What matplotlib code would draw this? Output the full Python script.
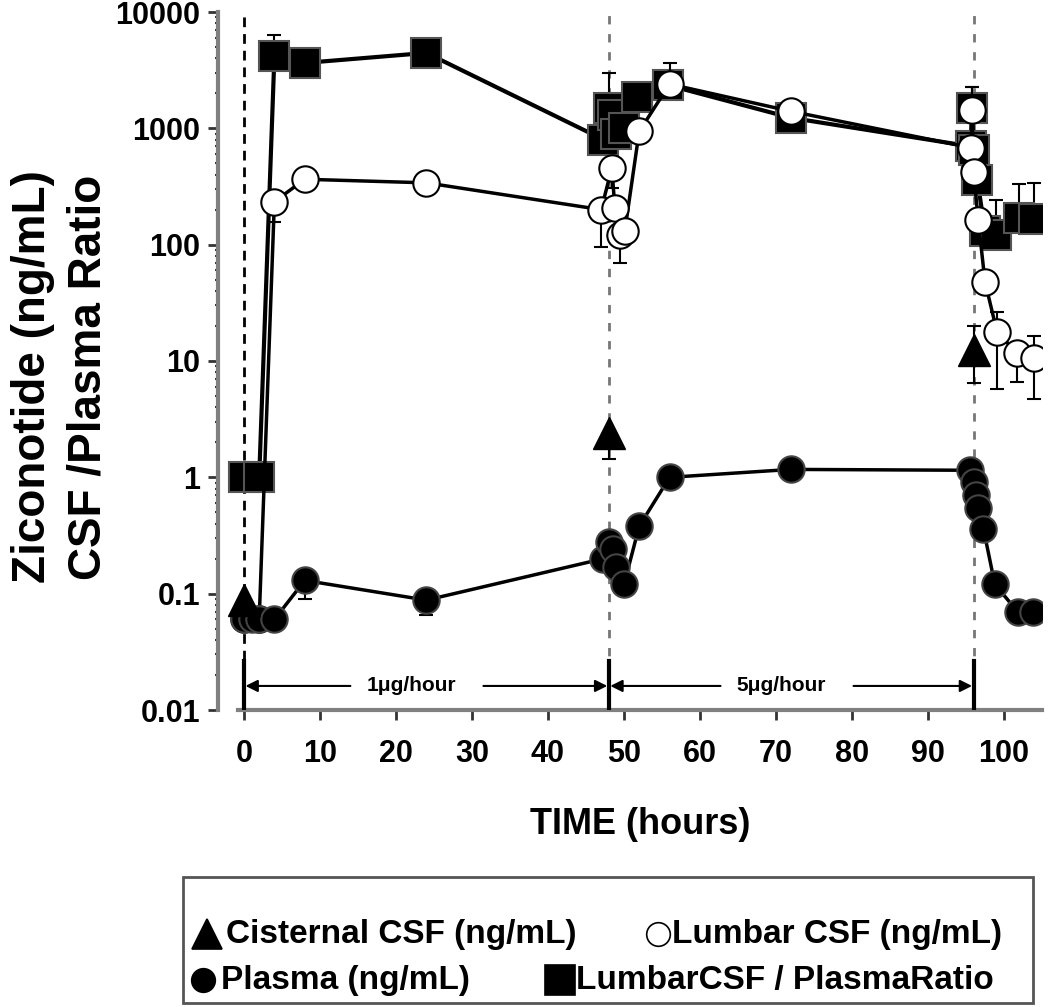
import numpy as np
import matplotlib
matplotlib.use("Agg")
import matplotlib.pyplot as plt
from matplotlib.lines import Line2D
from matplotlib.patches import Rectangle

plt.rcParams['font.family'] = ['Liberation Sans', 'DejaVu Sans']
plt.rcParams['font.weight'] = 'bold'

# cisternal CSF (ng/mL)
t_cist = [0, 48, 96]
cist = [0.088, 2.4, 12.5]
cist_low = [0.088, 1.45, 6.5]
cist_high = [0.088, 2.4, 20]

# plasma (ng/mL)
t_pl = [0, 1, 2, 4, 8, 24, 47.3, 48, 48.5, 49, 50, 52, 56, 72,
        95.5, 96, 96.3, 96.6, 97.3, 98.8, 101.8, 103.8]
pl = [0.06, 0.06, 0.06, 0.06, 0.13, 0.088, 0.2, 0.28, 0.24, 0.17, 0.12, 0.38, 1.0, 1.17,
      1.15, 0.91, 0.71, 0.55, 0.36, 0.12, 0.07, 0.07]
pl_low = [0.06, 0.06, 0.06, 0.06, 0.09, 0.065, 0.2, 0.28, 0.24, 0.17, 0.12, 0.3, 1.0, 1.17,
          1.15, 0.91, 0.71, 0.55, 0.36, 0.12, 0.07, 0.07]

# lumbar CSF (ng/mL)
t_lum = [0, 2, 4, 8, 24, 47, 48.4, 48.8, 49.5, 50.1, 52, 56, 72,
         95.7, 95.8, 96, 96.6, 97.5, 99.1, 101.7, 104]
lum = [0.06, 0.06, 234, 365, 340, 200, 457, 208, 120, 130, 940, 2400, 1400,
       680, 1440, 423, 164, 48, 17.6, 11.8, 10.7]
lum_low = [0.06, 0.06, 157, 365, 340, 95, 310, 208, 70, 130, 940, 2400, 1400,
           680, 1440, 423, 164, 48, 5.7, 6.6, 4.7]
lum_high = [0.06, 0.06, 234, 365, 340, 200, 457, 208, 120, 130, 940, 3650, 1400,
            680, 2270, 423, 164, 48, 26.5, 11.8, 16.5]

# lumbar CSF / plasma ratio
t_rat = [0, 2, 4, 8, 24, 47.3, 48, 48.5, 49, 50, 51.7, 55.8, 72,
         95.6, 95.8, 96, 96.5, 97.5, 99, 102, 104]
rat = [1, 1, 4150, 3650, 4450, 800, 1500, 1300, 900, 1000, 1850, 2350, 1230,
       700, 1500, 650, 360, 130, 120, 170, 165]
rat_high = [1, 1, 6300, 3650, 4450, 800, 3000, 1300, 900, 1000, 1850, 2350, 1230,
            700, 2270, 650, 360, 130, 240, 330, 340]

dose_starts = [0, 48, 96]
dose_labels = ['1\u03bcg/hour', '5\u03bcg/hour']
x_ticks = [0, 10, 20, 30, 40, 50, 60, 70, 80, 90, 100]
y_ticks = [0.01, 0.1, 1, 10, 100, 1000, 10000]
y_ticklabels = ['0.01', '0.1', '1', '10', '100', '1000', '10000']


def err(v, lo, hi):
    v, lo, hi = np.array(v), np.array(lo), np.array(hi)
    return [v - lo, hi - v]


fig = plt.figure(figsize=(10.5, 10.07), dpi=100)
ax = fig.add_axes([218 / 1050, 1 - 710 / 1007, 824 / 1050, 698 / 1007])
ax.set_yscale('log')
ax.set_xlim(-3.42, 105)
ax.set_ylim(0.01, 10000)

# dose change lines
ax.axvline(dose_starts[0], color='black', lw=2, ls=(0, (3.5, 2.5)), zorder=1)
for d in dose_starts[1:]:
    ax.axvline(d, color='#777777', lw=2, ls=(0, (3, 3.5)), zorder=1)

ecol = 'black'
ax.errorbar(t_rat, rat, yerr=err(rat, rat, rat_high), fmt='none', ecolor=ecol,
            elinewidth=1.5, capsize=5, capthick=1.5, zorder=2)
ax.plot(t_rat, rat, '-s', color='black', lw=3, ms=21, mfc='black', mec='#555555',
        mew=1.5, zorder=3)
ax.errorbar(t_lum, lum, yerr=err(lum, lum_low, lum_high), fmt='none', ecolor=ecol,
            elinewidth=1.5, capsize=5, capthick=1.5, zorder=4)
ax.plot(t_lum, lum, '-o', color='black', lw=2.5, ms=19, mfc='white', mec='black',
        mew=1.5, zorder=5)
ax.errorbar(t_pl, pl, yerr=err(pl, pl_low, pl), fmt='none', ecolor=ecol,
            elinewidth=1.5, capsize=5, capthick=1.5, zorder=6)
ax.plot(t_pl, pl, '-o', color='black', lw=2.5, ms=19, mfc='black', mec='#444444',
        mew=1.5, zorder=7)
ax.errorbar(t_cist, cist, yerr=err(cist, cist_low, cist_high), fmt='none',
            ecolor=ecol, elinewidth=1.5, capsize=5, capthick=1.5, zorder=8)
ax.plot(t_cist, cist, '^', color='black', ms=23, zorder=9)

# dosing arrows
ya = 0.0161
for d in dose_starts:
    ax.plot([d, d], [0.0102, 0.0265], color='black', lw=3, zorder=3)
for (a, b), lab, tx in zip([(0, 48), (48, 96)], dose_labels, [22, 70.7]):
    ax.annotate('', xy=(a + 0.2, ya), xytext=(tx - 8, ya),
                arrowprops=dict(arrowstyle='-|>', color='black', lw=1.5,
                                mutation_scale=18, shrinkA=0, shrinkB=0))
    ax.annotate('', xy=(b - 0.2, ya), xytext=(tx + 9.5, ya),
                arrowprops=dict(arrowstyle='-|>', color='black', lw=1.5,
                                mutation_scale=18, shrinkA=0, shrinkB=0))
    ax.text(tx, ya, lab, ha='center', va='center', fontsize=15, fontweight='bold')

for s in ['top', 'right']:
    ax.spines[s].set_visible(False)
for s in ['left', 'bottom']:
    ax.spines[s].set_color('#808080')
    ax.spines[s].set_linewidth(3)
ax.spines['bottom'].set_bounds(-0.8, 105)

ax.set_xticks(x_ticks)
ax.set_xticklabels([str(v) for v in x_ticks])
ax.set_yticks(y_ticks)
ax.set_yticklabels(y_ticklabels)
ax.tick_params(axis='both', which='major', labelsize=22, width=2, length=7,
               color='#333333')
ax.tick_params(axis='x', pad=14)
ax.tick_params(axis='y', pad=6)
ax.tick_params(axis='y', which='minor', width=1.5, length=2.5, color='#333333')
for lab in ax.get_xticklabels() + ax.get_yticklabels():
    lab.set_fontweight('bold')

fig.text(0.61, 1 - 824 / 1007, 'TIME (hours)', ha='center', va='center',
         fontsize=26, fontweight='bold')
fig.text(33 / 1050, 1 - 377 / 1007, 'Ziconotide (ng/mL)', rotation=90,
         ha='center', va='center', fontsize=33, fontweight='bold')
fig.text(89 / 1050, 1 - 377 / 1007, 'CSF /Plasma Ratio', rotation=90,
         ha='center', va='center', fontsize=33, fontweight='bold')

# legend box
fig.add_artist(Rectangle((183 / 1050, 1 - 1003 / 1007), 850 / 1050, 126 / 1007,
                         transform=fig.transFigure, fill=False,
                         edgecolor='#555555', lw=2))
items = [
    (207, 934, '^', 'black', 'Cisternal CSF (ng/mL)', 22, 226),
    (658, 934, 'o', 'white', 'Lumbar CSF (ng/mL)', 17, 672),
    (203, 980, 'o', 'black', 'Plasma (ng/mL)', 17, 221),
    (560, 980, 's', 'black', 'LumbarCSF / PlasmaRatio', 21, 576),
]
for x, y, m, fc, lab, ms, xt in items:
    fig.add_artist(Line2D([x / 1050], [1 - y / 1007], marker=m, ms=ms, mfc=fc,
                          mec='black', mew=1.2, ls='none',
                          transform=fig.transFigure))
    fig.text(xt / 1050, 1 - y / 1007, lab, ha='left', va='center',
             fontsize=24, fontweight='bold')

fig.savefig('out.png', dpi=100)
